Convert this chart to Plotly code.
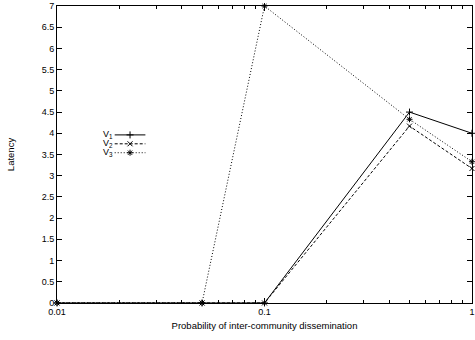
import plotly.graph_objects as go

# Probability of inter-community dissemination
prob = [0.01, 0.05, 0.1, 0.5, 1.0]

# Latency per variant
v1_latency = [0, 0, 0, 4.5, 4.0]
v2_latency = [0, 0, 0, 4.17, 3.17]
v3_latency = [0, 0, 7.0, 4.33, 3.33]

series_names = ["V<sub>1</sub>", "V<sub>2</sub>", "V<sub>3</sub>"]
series_values = [v1_latency, v2_latency, v3_latency]
series_dash = ["solid", "3px,2px", "1px,2px"]
series_symbol = ["cross-thin-open", "x-thin-open", "asterisk-open"]

x_tickvals = [0.01, 0.1, 1]
x_ticktext = ["0.01", "0.1", "1"]
y_tickvals = [0, 0.5, 1, 1.5, 2, 2.5, 3, 3.5, 4, 4.5, 5, 5.5, 6, 6.5, 7]

FONT = "Liberation Sans, Arial, Helvetica, sans-serif"
MARK = 5

fig = go.Figure()

for name, vals, dash, sym in zip(series_names, series_values, series_dash, series_symbol):
    fig.add_trace(go.Scatter(
        x=prob, y=vals, mode="lines+markers", name=name,
        line=dict(color="black", width=1, dash=dash),
        marker=dict(symbol=sym, size=MARK, color="black",
                    line=dict(color="black", width=1)),
        showlegend=False, cliponaxis=False,
    ))

# Key drawn inside the plot: label right-aligned, then a line sample with marker
key_rows_y = [0.566, 0.536, 0.506]
key_text_x = 0.14
key_line_x = [0.139, 0.213]
key_mark_x = 0.176
for name, dash, sym, ky in zip(series_names, series_dash, series_symbol, key_rows_y):
    fig.add_trace(go.Scatter(
        x=key_line_x, y=[ky, ky], mode="lines", xaxis="x2", yaxis="y2",
        line=dict(color="black", width=1, dash=dash), showlegend=False,
        hoverinfo="skip",
    ))
    fig.add_trace(go.Scatter(
        x=[key_mark_x], y=[ky], mode="markers", xaxis="x2", yaxis="y2",
        marker=dict(symbol=sym, size=MARK, color="black",
                    line=dict(color="black", width=1)),
        showlegend=False, hoverinfo="skip",
    ))
    fig.add_annotation(
        x=key_text_x, y=ky, xref="x2", yref="y2", text=name,
        showarrow=False, xanchor="right", yanchor="middle",
        font=dict(family=FONT, size=9, color="black"),
    )

axis_common = dict(
    showline=True, linecolor="black", linewidth=1, mirror="ticks",
    ticks="inside", tickcolor="black", showgrid=False, zeroline=False,
    tickfont=dict(family=FONT, size=9, color="black"),
    ticklabeloverflow="allow",
)

fig.update_layout(
    width=475, height=340,
    margin=dict(l=57, r=1, t=5, b=37),
    paper_bgcolor="white", plot_bgcolor="white",
    font=dict(family=FONT, size=9.5, color="black"),
    xaxis=dict(
        type="log", range=[-2.0002, 0.0002],
        tickvals=x_tickvals, ticktext=x_ticktext, ticklen=5,
        minor=dict(ticks="inside", ticklen=3, tickcolor="black",
                   tickvals=[0.02, 0.03, 0.04, 0.05, 0.06, 0.07, 0.08, 0.09,
                             0.2, 0.3, 0.4, 0.5, 0.6, 0.7, 0.8, 0.9]),
        title=dict(text="Probability of inter-community dissemination",
                   font=dict(family=FONT, size=9.5), standoff=6),
        **axis_common,
    ),
    yaxis=dict(
        range=[-0.001, 7.001], tickvals=y_tickvals, ticklen=5,
        title=dict(text="Latency", font=dict(family=FONT, size=9.5), standoff=25),
        **axis_common,
    ),
    xaxis2=dict(overlaying="x", range=[0, 1], visible=False),
    yaxis2=dict(overlaying="y", range=[0, 1], visible=False),
)

fig.write_html("out.html")
